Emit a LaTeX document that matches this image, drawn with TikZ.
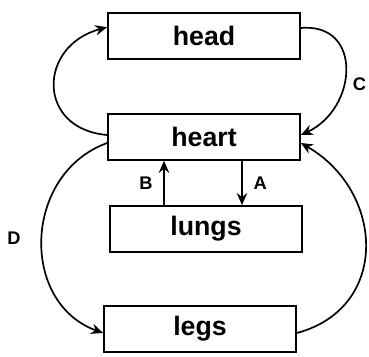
\documentclass[tikz,border=0pt]{standalone}
\usepackage{fontspec}
\setmainfont{Liberation Sans}
\usetikzlibrary{positioning, arrows.meta}

\begin{document}
\begin{tikzpicture}[
  x=0.025cm, y=-0.025cm,
  >=Stealth,
  organ/.style={rectangle, draw, line width=1.2pt, minimum width=4.8cm, minimum height=1.15cm, font=\fontsize{19}{21}\selectfont\bfseries},
  arrow/.style={-{Stealth[length=3mm, width=2.6mm]}, line width=1.2pt},
  tag/.style={font=\fontsize{13}{15}\selectfont\bfseries}
]
\useasboundingbox (0,0) rectangle (369,356);

%--------------------------------------
% Organs
%--------------------------------------
\node[organ] (head) at (204,36) {head};
\node[organ] (heart) at (204,137) {heart};
\node[organ] (lungs) at (206,229) {lungs};
\node[organ] (legs) at (200,329) {legs};

%--------------------------------------
% Loops
%--------------------------------------
\draw[arrow] ([yshift=0.05cm]heart.west) to[out=175, in=195, looseness=1.7] ([yshift=0.22cm]head.west);
\draw[arrow] ([yshift=0.2cm]head.east) to[out=5, in=25, looseness=1.5]
  node[tag, pos=0.6, right=0.1cm] (c) {C} ([yshift=0.05cm]heart.east);
\draw[arrow] ([yshift=-0.15cm]heart.west) to[out=200, in=160, looseness=1.2]
  node[tag, left=0.4cm] (d) {D} ([yshift=-0.1cm]legs.west);
\draw[arrow] ([yshift=-0.1cm]legs.east) to[out=15, in=-30, looseness=1.3] ([yshift=-0.15cm]heart.east);

%--------------------------------------
% Heart and lungs
%--------------------------------------
\draw[arrow] ([xshift=0.95cm]heart.south) -- node[tag, right=0.15cm] (a) {A} ([xshift=0.95cm]heart.south |- lungs.north);
\draw[arrow] ([xshift=-1cm]heart.south |- lungs.north) -- node[tag, left=0.15cm] (b) {B} ([xshift=-1cm]heart.south);

\end{tikzpicture}
\end{document}
